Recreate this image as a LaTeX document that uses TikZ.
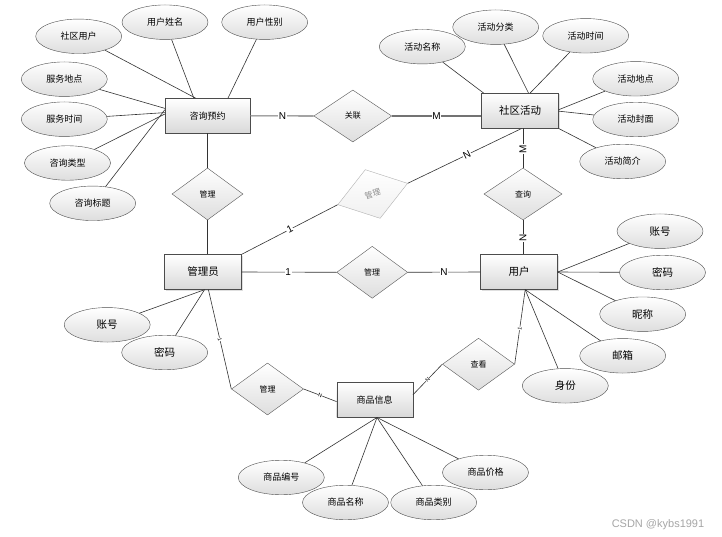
\documentclass[tikz,border=0pt]{standalone}
\usepackage{fontspec}
\newfontfamily\cjk{Noto Sans CJK SC}
\newfontfamily\lat{Liberation Sans}
\usetikzlibrary{shapes.geometric,calc,shadows}
\begin{document}
\begin{tikzpicture}[x=1pt,y=-1pt,
 ent/.style={draw=black!70, rectangle, minimum width=77pt, minimum height=35pt, inner sep=0pt,
   top color=white, bottom color=black!15, font=\cjk\fontsize{10.5}{10.5}\selectfont,
   drop shadow={shadow xshift=1pt,shadow yshift=-1pt,opacity=0.25}},
 attr/.style={draw=black!70, ellipse, minimum width=86pt, minimum height=34.5pt, inner sep=0pt,
   top color=white, bottom color=black!13, font=\cjk\fontsize{9}{9}\selectfont},
 attrb/.style={attr, font=\cjk\fontsize{10.5}{10.5}\selectfont},
 rel/.style={draw=black!65, diamond, minimum width=72pt, minimum height=52pt, inner sep=0pt,
   top color=white, bottom color=black!13, font=\cjk\fontsize{8}{8}\selectfont},
 ln/.style={draw=black!80, line width=0.6pt},
 lk/.style={draw=black!55, line width=1.1pt},
 card/.style={font=\lat\fontsize{10}{10}\selectfont, fill=white, inner sep=0.6pt},
 tinylbl/.style={font=\lat\fontsize{5.5}{5.5}\selectfont, fill=white, inner sep=0.3pt, sloped}
]
\fill[white] (0,0) rectangle (722,537);
\useasboundingbox (0,0) rectangle (722,537);

% entities
\node[ent, minimum width=85pt, font=\cjk\fontsize{9}{9}\selectfont] (zx) at (207.5,115.8) {咨询预约};
\node[ent] (sq) at (520,110.8) {社区活动};
\node[ent] (gly) at (203,272) {管理员};
\node[ent] (yh) at (519,272) {用户};
\node[ent, minimum width=76pt, font=\cjk\fontsize{9}{9}\selectfont] (sp) at (374.7,399.8) {商品信息};

% attributes of 咨询预约
\node[attr] (a1) at (78.7,36.3) {社区用户};
\node[attr] (a2) at (165,22.2) {用户姓名};
\node[attr] (a3) at (264.7,22.2) {用户性别};
\node[attr] (a4) at (64.3,79.2) {服务地点};
\node[attr] (a5) at (64.3,119.2) {服务时间};
\node[attr] (a6) at (67.5,163) {咨询类型};
\node[attr] (a7) at (92.7,203.3) {咨询标题};

% attributes of 社区活动
\node[attr] (b1) at (422.3,46.7) {活动名称};
\node[attr] (b2) at (495.7,27.2) {活动分类};
\node[attr] (b3) at (585.7,35.8) {活动时间};
\node[attr] (b4) at (635.7,78.8) {活动地点};
\node[attr] (b5) at (635.7,119.5) {活动封面};
\node[attr] (b6) at (622.7,161.5) {活动简介};

% attributes of 用户
\node[attrb] (c1) at (660,231.2) {账号};
\node[attrb] (c2) at (662.5,272.5) {密码};
\node[attrb] (c3) at (642.7,314.2) {昵称};
\node[attrb] (c4) at (622.7,355.8) {邮箱};
\node[attrb] (c5) at (565.3,385.8) {身份};

% attributes of 管理员
\node[attrb] (d1) at (107.2,324.8) {账号};
\node[attrb] (d2) at (164.7,352.5) {密码};

% attributes of 商品信息
\node[attr] (e1) at (281.3,477.5) {商品编号};
\node[attr] (e4) at (485.5,472.5) {商品价格};
\node[attr] (e2) at (345.5,502.5) {商品名称};
\node[attr] (e3) at (433.7,502.5) {商品类别};

% relationships
\node[rel, minimum width=78pt] (r1) at (352.8,116) {关联};
\node[rel, minimum width=71pt] (r2) at (207.5,194) {管理};
\node[rel, minimum width=73pt, minimum height=51pt, rotate=17, draw=black!30, text=black!45,
      bottom color=black!6] (r3) at (372.7,194) {管理};
\node[rel, minimum width=78pt] (r4) at (523,194) {查询};
\node[rel, minimum width=71pt] (r5) at (372.2,272.3) {管理};
\node[rel, minimum width=72pt] (r6) at (267.5,389) {管理};
\node[rel, minimum width=72pt] (r7) at (478.5,364.2) {查看};

% attribute lines 咨询预约
\draw[ln] (a1) -- ($(zx.north west)!0.36!(zx.north east)$);
\draw[ln] (a2) -- ($(zx.north west)!0.34!(zx.north east)$);
\draw[ln] (a3) -- ($(zx.north west)!0.74!(zx.north east)$);
\draw[ln] (a4) -- ($(zx.north west)!0.29!(zx.south west)$);
\draw[ln] (a5) -- ($(zx.north west)!0.41!(zx.south west)$);
\draw[ln] (a6) -- ($(zx.north west)!0.45!(zx.south west)$);
\draw[ln] (a7) -- ($(zx.north west)!0.33!(zx.south west)$);

% attribute lines 社区活动
\draw[ln] (b1) -- ($(sq.north west)!0.03!(sq.north east)$);
\draw[ln] (b2) -- ($(sq.north west)!0.61!(sq.north east)$);
\draw[ln] (b3) -- ($(sq.north west)!0.63!(sq.north east)$);
\draw[ln] (b4) -- ($(sq.north east)!0.47!(sq.south east)$);
\draw[ln] (b5) -- ($(sq.north east)!0.51!(sq.south east)$);
\draw[ln] (b6) -- (sq.south east);

% attribute lines 用户
\draw[ln] (c1) -- (yh.east);
\draw[ln] (c2) -- (yh.east);
\draw[ln] (c3) -- (yh.east);
\draw[ln] (c4) -- ($(yh.south west)!0.58!(yh.south east)$);
\draw[ln] (c5) -- ($(yh.south west)!0.58!(yh.south east)$);

% attribute lines 管理员
\draw[ln] (d1) -- ($(gly.south west)!0.52!(gly.south east)$);
\draw[ln] (d2) -- ($(gly.south west)!0.52!(gly.south east)$);

% attribute lines 商品信息
\draw[ln] (e1) -- ($(sp.south west)!0.53!(sp.south east)$);
\draw[ln] (e2) -- ($(sp.south west)!0.53!(sp.south east)$);
\draw[ln] (e3) -- ($(sp.south west)!0.53!(sp.south east)$);
\draw[ln] (e4) -- ($(sp.south west)!0.53!(sp.south east)$);

% relationship links
\draw[lk] (zx.east) -- node[card, pos=0.51] {N} (r1.west);
\draw[lk] (r1.east) -- node[card, pos=0.5] {M} (sq.west |- r1.east);
\draw[ln] (r2.north) -- (r2.north |- zx.south);
\draw[ln] (r2.south) -- (r2.south |- gly.north);
\draw[ln] (gly.north east) -- node[card, sloped, pos=0.5] {1} (r3.west);
\draw[ln] (r3.east) -- node[card, sloped, pos=0.52] {N} ($(sq.south west)!0.52!(sq.south east)$);
\draw[ln] (r4.north) -- node[card, rotate=90, pos=0.48] {M} (r4.north |- sq.south);
\draw[ln] (r4.south) -- node[card, rotate=90, pos=0.52] {N} (r4.south |- yh.north);
\draw[ln] (gly.east) -- node[card, pos=0.49] {1} (r5.west);
\draw[ln] (r5.east) -- node[card, pos=0.5] {N} (yh.west);
\draw[ln] ($(gly.south west)!0.57!(gly.south east)$) -- node[tinylbl, pos=0.5] {1} (r6.west);
\draw[ln] (r6.east) -- node[tinylbl, pos=0.5] {N} ($(sp.north west)!0.55!(sp.south west)$);
\draw[ln] ($(sp.north east)!0.36!(sp.south east)$) -- node[tinylbl, pos=0.5] {N} (r7.west);
\draw[ln] (r7.east) -- node[tinylbl, pos=0.48] {1} ($(yh.south west)!0.58!(yh.south east)$);

% watermark
\node[font=\lat\fontsize{11}{11}\selectfont, text=black!35, inner sep=0pt] (wm) at (658,525) {CSDN @kybs1991};
\end{tikzpicture}
\end{document}
